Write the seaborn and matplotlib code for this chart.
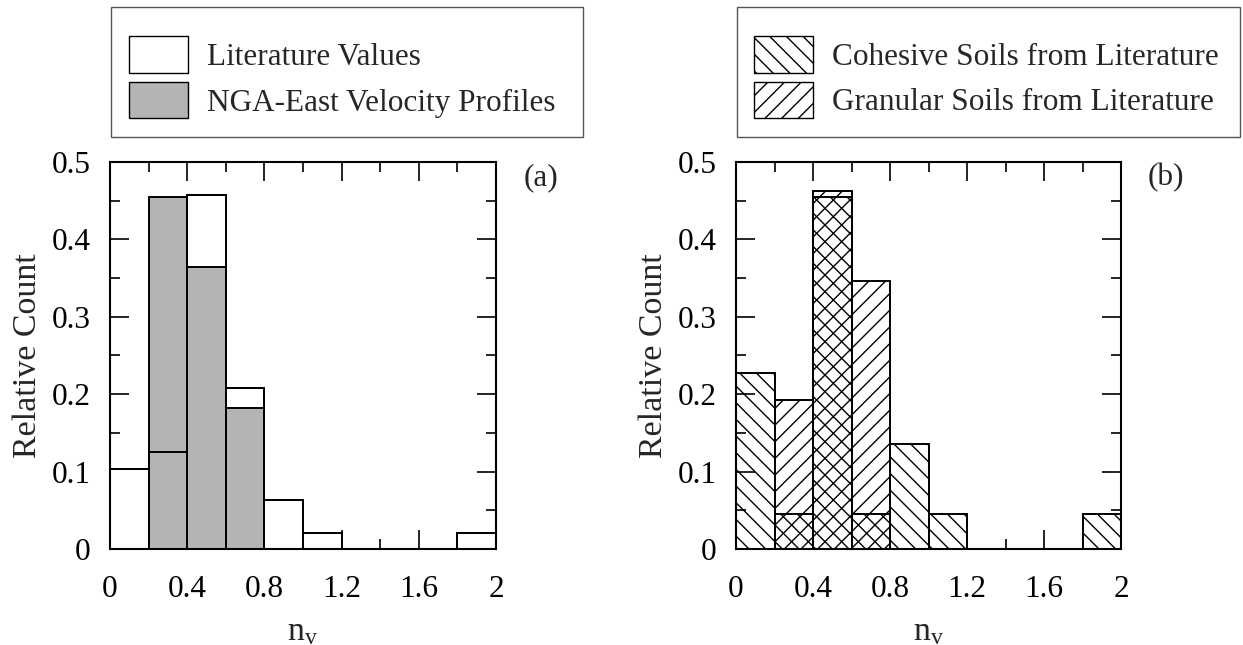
import numpy as np
import pandas as pd
import matplotlib
matplotlib.use("Agg")
import matplotlib.pyplot as plt
from matplotlib.patches import Patch, Rectangle
import seaborn as sns

# ---- data (relative counts per bin, bin width 0.2 from 0 to 2) ----
bin_edges = [0.0, 0.2, 0.4, 0.6, 0.8, 1.0, 1.2, 1.4, 1.6, 1.8, 2.0]
bin_centers = [0.1, 0.3, 0.5, 0.7, 0.9, 1.1, 1.3, 1.5, 1.7, 1.9]
literature = [0.104, 0.125, 0.458, 0.208, 0.063, 0.021, 0.0, 0.0, 0.0, 0.021]
nga_east = [0.0, 0.455, 0.364, 0.182, 0.0, 0.0, 0.0, 0.0, 0.0, 0.0]
cohesive = [0.227, 0.045, 0.455, 0.045, 0.136, 0.045, 0.0, 0.0, 0.0, 0.045]
granular = [0.0, 0.192, 0.462, 0.346, 0.0, 0.0, 0.0, 0.0, 0.0, 0.0]
x_ticks = [0, 0.4, 0.8, 1.2, 1.6, 2]
x_ticklabels = ["0", "0.4", "0.8", "1.2", "1.6", "2"]
y_ticks = [0, 0.1, 0.2, 0.3, 0.4, 0.5]
y_ticklabels = ["0", "0.1", "0.2", "0.3", "0.4", "0.5"]
labels_a = ["Literature Values", "NGA-East Velocity Profiles"]
labels_b = ["Cohesive Soils from Literature", "Granular Soils from Literature"]

sns.set_theme(style="ticks")
plt.rcParams["font.family"] = ["Liberation Serif", "DejaVu Serif"]
plt.rcParams["mathtext.fontset"] = "custom"
plt.rcParams["mathtext.rm"] = "Liberation Serif"
plt.rcParams["mathtext.it"] = "Liberation Serif:italic"
plt.rcParams["hatch.linewidth"] = 1.0
plt.rcParams["hatch.color"] = "black"

GRAY = "#b4b4b4"
TICK_FS = 22.5
LABEL_FS = 24.5
LEG_FS = 22.5

fig = plt.figure(figsize=(12.43, 6.45), dpi=100)
ax_a = fig.add_axes([110 / 1243, 96 / 645, 386 / 1243, 387 / 645])
ax_b = fig.add_axes([736 / 1243, 96 / 645, 385 / 1243, 387 / 645])

df = pd.DataFrame({"x": bin_centers, "lit": literature, "nga": nga_east,
                   "coh": cohesive, "gran": granular})


def hist(ax, col, **kw):
    n0 = len(ax.patches)
    sns.histplot(data=df, x="x", weights=col, bins=bin_edges, ax=ax,
                 element="bars", linewidth=1.4, **kw)
    return ax.patches[n0:]


# panel (a)
hist(ax_a, "lit", fill=True, facecolor="white", edgecolor="black", zorder=1)
hist(ax_a, "nga", fill=True, facecolor=GRAY, edgecolor="black", zorder=2)
hist(ax_a, "lit", fill=False, color="black", zorder=3)

# panel (b)
for p in hist(ax_b, "coh", fill=False, color="black", zorder=2):
    p.set_hatch("\\\\")
for p in hist(ax_b, "gran", fill=False, color="black", zorder=2):
    p.set_hatch("//")

for ax, tag in [(ax_a, "(a)"), (ax_b, "(b)")]:
    ax.set_xlim(0, 2)
    ax.set_ylim(0, 0.5)
    ax.set_xticks(x_ticks)
    ax.set_xticklabels(x_ticklabels)
    ax.set_yticks(y_ticks)
    ax.set_yticklabels(y_ticklabels)
    ax.set_xticks(np.arange(0.2, 2.0, 0.4), minor=True)
    ax.set_yticks(np.arange(0.05, 0.5, 0.1), minor=True)
    ax.tick_params(which="both", direction="in", top=True, right=True,
                   colors="black", width=1.2, labelsize=TICK_FS)
    ax.tick_params(which="major", length=14)
    ax.tick_params(which="minor", length=7)
    ax.tick_params(axis="x", which="major", pad=19)
    ax.tick_params(axis="y", which="major", pad=14)
    for s in ax.spines.values():
        s.set_visible(True)
        s.set_linewidth(1.5)
        s.set_color("black")
        s.set_zorder(5)
    ax.set_xlabel(r"n$_{\rm v}$", fontsize=LABEL_FS, labelpad=9)
    ax.set_ylabel("Relative Count", fontsize=LABEL_FS, labelpad=6)
    ax.text(1.117, 0.959, tag, transform=ax.transAxes, fontsize=TICK_FS,
            ha="center", va="center")
    ax.grid(False)

# legends with their frames
handles_a = [Patch(facecolor="white", edgecolor="black", linewidth=1.0),
             Patch(facecolor=GRAY, edgecolor="black", linewidth=1.0)]
handles_b = [Patch(facecolor="none", edgecolor="black", hatch="\\\\", linewidth=1.0),
             Patch(facecolor="none", edgecolor="black", hatch="//", linewidth=1.0)]

leg_kw = dict(frameon=False, fontsize=LEG_FS, borderpad=0, borderaxespad=0,
              handlelength=1.89, handleheight=1.42, handletextpad=0.61,
              labelspacing=0.3, loc="upper left",
              bbox_transform=fig.transFigure)
fig.legend(handles_a, labels_a, bbox_to_anchor=(129 / 1243, 1 - 36 / 645), **leg_kw)
fig.legend(handles_b, labels_b, bbox_to_anchor=(754 / 1243, 1 - 36 / 645), **leg_kw)

for x0, x1 in [(111, 583), (737, 1240)]:
    fig.patches.append(Rectangle((x0 / 1243, 1 - 137 / 645), (x1 - x0) / 1243,
                                 130 / 645, transform=fig.transFigure,
                                 facecolor="none", edgecolor="#555555",
                                 linewidth=1.0))

fig.savefig("out.png", dpi=100, facecolor="white")
